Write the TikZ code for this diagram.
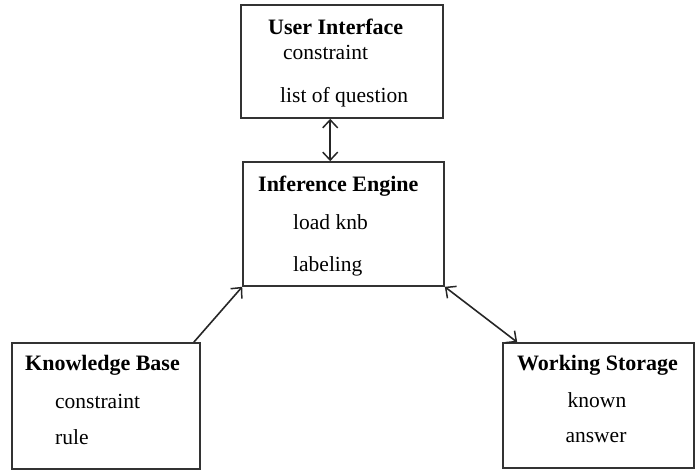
\documentclass[tikz,border=0pt]{standalone}
\usepackage{fontspec}
\setmainfont{Liberation Serif}
\usetikzlibrary{arrows.meta, positioning}

\begin{document}
\begin{tikzpicture}[x=1pt, y=1pt,
                >={Straight Barb[length=8pt,width=15pt,line width=1.5pt]},
                box/.style={draw=black!80, line width=1.6pt, rectangle},
                title/.style={font=\fontsize{22}{24}\selectfont\bfseries, inner sep=0pt, anchor=west},
                item/.style={font=\fontsize{21.5}{24}\selectfont, inner sep=0pt, anchor=west},
                link/.style={<->, line width=1.6pt, draw=black!85},
                onelink/.style={->, line width=1.6pt, draw=black!85}
                ]
                \useasboundingbox (0,0) rectangle (696,472);
                % the four blocks
                \node [box, minimum width=202pt, minimum height=113pt] (ui) at (342,410.5) {};
                \node [box, minimum width=201pt, minimum height=124pt] (ie) at (343.5,248) {};
                \node [box, minimum width=188pt, minimum height=126pt] (kb) at (106,66) {};
                \node [box, minimum width=191pt, minimum height=125pt] (ws) at (598.5,66.5) {};
                % their texts
                \node [title] (uiname) at (268,445) {User Interface};
                \node [item] (uicons) at (283,420) {constraint};
                \node [item] (uilist) at (280,375) {list of question};
                \node [title] (iename) at (258,286) {Inference Engine};
                \node [item] (ieload) at (293,250) {load knb};
                \node [item] (ielabel) at (293,206) {labeling};
                \node [title] (kbname) at (25,107) {Knowledge Base};
                \node [item] (kbcons) at (55,71) {constraint};
                \node [item] (kbrule) at (55,35) {rule};
                \node [title] (wsname) at (517,107) {Working Storage};
                \node [item, anchor=center] (wsknown) at (597,72) {known};
                \node [item, anchor=center] (wsanswer) at (596,34) {answer};
                % connectors
                \draw [link] ([xshift=90pt]ui.south west) -- ([xshift=88pt]ie.north west);
                \draw [onelink] ([xshift=-7pt]kb.north east) -- (ie.south west);
                \draw [link] (ie.south east) -- ([xshift=15pt]ws.north west);
\end{tikzpicture}
\end{document}
